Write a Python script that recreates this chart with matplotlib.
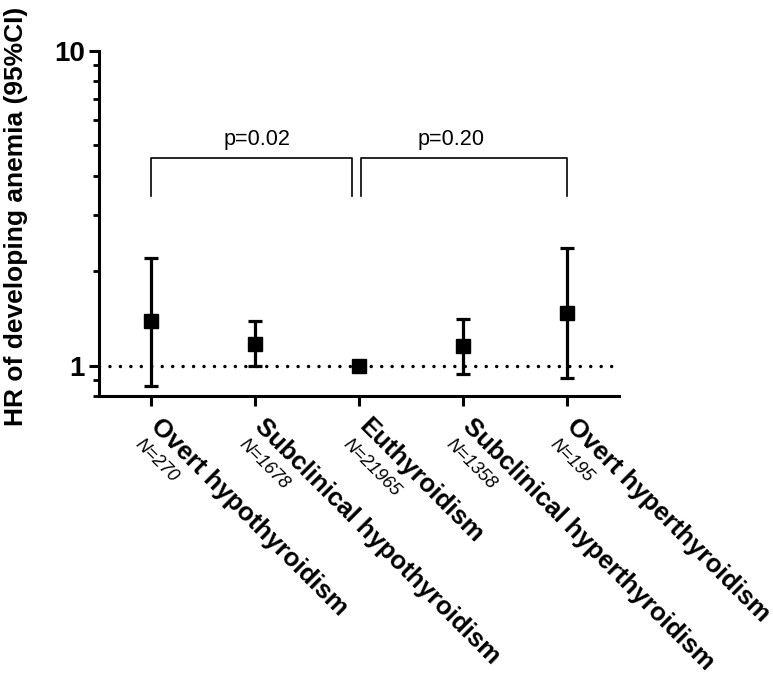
import numpy as np
import matplotlib
matplotlib.use("Agg")
from matplotlib import pyplot as plt
from matplotlib import transforms
from matplotlib.ticker import LogLocator, NullFormatter, FixedLocator

plt.rcParams['font.family'] = ['Liberation Sans', 'DejaVu Sans']

# data
groups = ["Overt hypothyroidism", "Subclinical hypothyroidism", "Euthyroidism",
          "Subclinical hyperthyroidism", "Overt hyperthyroidism"]
n_labels = ["N=270", "N=1678", "N=21965", "N=1358", "N=195"]
hr = [1.38, 1.17, 1.0, 1.15, 1.47]
ci_low = [0.86, 1.0, 1.0, 0.94, 0.91]
ci_high = [2.2, 1.38, 1.0, 1.41, 2.37]
p_texts = ["p=0.02", "p=0.20"]

fig = plt.figure(figsize=(7.73, 6.75), dpi=100)
ax = fig.add_axes([0.1285, 0.4133, 0.6723, 0.5117])

x = np.arange(len(groups))
hr = np.array(hr)
yerr = np.array([hr - np.array(ci_low), np.array(ci_high) - hr])

ax.axhline(1, color='black', lw=2.5, linestyle=(0, (0.01, 3.0)),
           dash_capstyle='round', zorder=1)
ax.errorbar(x, hr, yerr=yerr, fmt='s', color='black', ms=10, lw=2.3,
            capsize=5, capthick=2.3, zorder=3)

ax.set_yscale('log')
ax.set_ylim(0.8, 10)
ax.set_xlim(-0.5, 4.5)
ax.yaxis.set_major_locator(FixedLocator([1, 10]))
ax.set_yticklabels(["1", "10"])
ax.yaxis.set_minor_locator(LogLocator(base=10, subs=np.arange(2, 10)))
ax.yaxis.set_minor_formatter(NullFormatter())
ax.set_xticks(x)
ax.set_xticklabels([])

for s in ['top', 'right']:
    ax.spines[s].set_visible(False)
for s in ['left', 'bottom']:
    ax.spines[s].set_linewidth(2.2)
ax.tick_params(axis='both', which='major', width=2.2, length=7, labelsize=20)
ax.tick_params(axis='y', which='minor', width=2.0, length=4.5)
for lab in ax.get_yticklabels():
    lab.set_fontweight('bold')

ax.set_ylabel("HR of developing anemia (95%CI)", fontsize=19, fontweight='bold')
ax.yaxis.set_label_coords(-0.138, 0.52)

# brackets
top, leg = 4.56, 3.46
ax.plot([0, 0, 1.935, 1.935], [leg, top, top, leg], color='black', lw=1.2)
ax.plot([2.015, 2.015, 4, 4], [leg, top, top, leg], color='black', lw=1.2)
ax.text(1.02, 5.21, p_texts[0], ha='center', va='center', fontsize=15.6)
ax.text(2.88, 5.21, p_texts[1], ha='center', va='center', fontsize=15.6)

# category and N labels below the axis
base = transforms.blended_transform_factory(ax.transData, ax.transAxes)
for i in range(len(groups)):
    t1 = transforms.offset_copy(base, fig=fig, x=12, y=-18, units='dots')
    ax.text(i, 0, groups[i], transform=t1, rotation=-45, rotation_mode='anchor',
            ha='left', va='top', fontsize=18.5, fontweight='bold')
    t2 = transforms.offset_copy(base, fig=fig, x=-8, y=-40, units='dots')
    ax.text(i, 0, n_labels[i], transform=t2, rotation=-45, rotation_mode='anchor',
            ha='left', va='top', fontsize=13, style='italic')

fig.savefig("out.png", dpi=100)
